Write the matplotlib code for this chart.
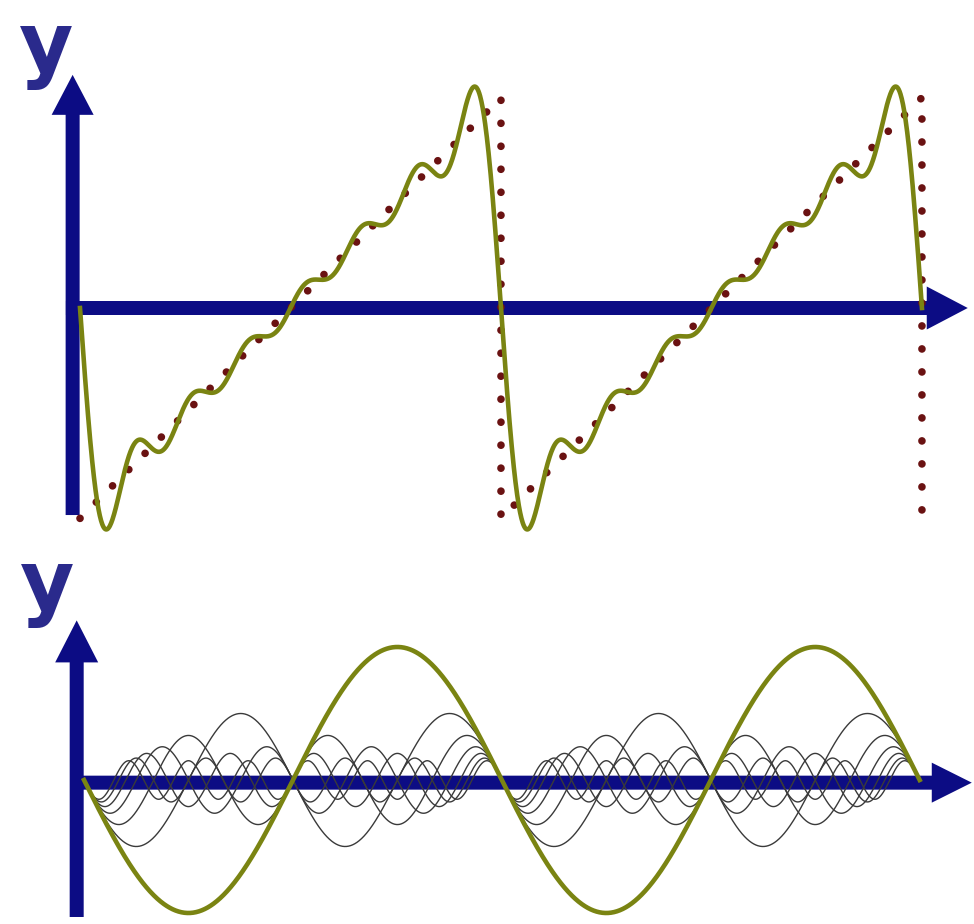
import numpy as np
import matplotlib
matplotlib.use("Agg")
import matplotlib.pyplot as plt

# harmonics (amplitude in y units, sign = starts downward)
harmonics = [1, 2, 3, 4, 5, 6, 7]
amplitudes = [2.0, 1.0, 0.67, 0.5, 0.4, 0.33, 0.29]
saw_height = 3.14      # half height of the dotted sawtooth
n_periods = 2

navy = "#0c0c84"
olive = "#7a8412"
maroon = "#6a1212"

W, H = 974, 924
fig = plt.figure(figsize=(W / 100, H / 100), dpi=100)

x = np.linspace(0, 2 * np.pi * n_periods, 2000)

"""top panel: sawtooth and its partial fourier sum"""
s_top = 67.0
ox, oy = 80, 308
top_px = 560
ax1 = fig.add_axes([0, 1 - top_px / H, 1, top_px / H])
ax1.set_xlim(-ox / s_top, (W - ox) / s_top)
ax1.set_ylim(-(top_px - oy) / s_top, oy / s_top)
ax1.axis("off")

# axes arrows
ax1.arrow(-0.11, -3.09, 0, 3.09 + 3.48, width=14 / s_top, head_width=42 / s_top,
          head_length=40 / s_top, length_includes_head=True, color=navy, lw=0, zorder=1)
ax1.arrow(-0.21, 0, 13.25 + 0.21, 0, width=14 / s_top, head_width=43 / s_top,
          head_length=41 / s_top, length_includes_head=True, color=navy, lw=0, zorder=1)

saw_x = [0]
saw_y = [-saw_height]
for p in range(1, n_periods + 1):
    saw_x += [2 * np.pi * p, 2 * np.pi * p]
    saw_y += [saw_height, -saw_height]
ax1.plot(saw_x, saw_y, color=maroon, lw=5.5, linestyle=(0, (0.01, 3.0)),
         dash_capstyle="round", zorder=2)

partial = np.zeros_like(x)
for k, a in zip(harmonics, amplitudes):
    partial += -a * np.sin(k * x)
ax1.plot(x, partial, color=olive, lw=3.3, zorder=3)

ax1.text(-0.5, 3.86, "y", color="#2a2a8c", fontsize=60, fontweight="bold",
         ha="center", va="center")

"""bottom panel: the separate harmonics"""
s_bot = 66.5
ox2, oy2 = 84, 780
ax2 = fig.add_axes([0, 0, 1, (H - top_px) / H])
ax2.set_xlim(-ox2 / s_bot, (W - ox2) / s_bot)
ax2.set_ylim(-(H - oy2) / s_bot, (oy2 - top_px) / s_bot)
ax2.axis("off")

ax2.arrow(-0.11, -2.06, 0, 2.06 + 2.4, width=14 / s_bot, head_width=43 / s_bot,
          head_length=42 / s_bot, length_includes_head=True, color=navy, lw=0, zorder=1)
ax2.arrow(-0.2, -0.04, 13.35 + 0.2, 0, width=14 / s_bot, head_width=40 / s_bot,
          head_length=40 / s_bot, length_includes_head=True, color=navy, lw=0, zorder=1)

for k, a in zip(harmonics[1:], amplitudes[1:]):
    ax2.plot(x, -a * np.sin(k * x), color="#3a3a3a", lw=1.0, zorder=2)
ax2.plot(x, -amplitudes[0] * np.sin(harmonics[0] * x), color=olive, lw=3.3, zorder=3)

ax2.text(-0.56, 2.9, "y", color="#2a2a8c", fontsize=60, fontweight="bold",
         ha="center", va="center")

plt.savefig("out.png", dpi=100)
